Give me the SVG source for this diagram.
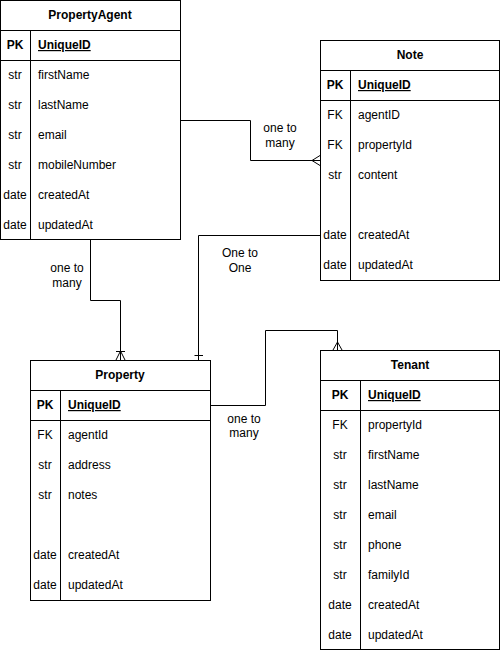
<svg xmlns="http://www.w3.org/2000/svg" width="501" height="651" viewBox="0 0 501 651">
<style>
text{font-family:"Liberation Sans",Arial,sans-serif;font-size:12px;fill:#000}
.t{font-weight:bold;text-anchor:middle}
.k{text-anchor:middle}
.pk{font-weight:bold;text-anchor:middle}
.uid{font-weight:bold;text-decoration:underline}
.box{fill:#fff;stroke:#000;stroke-width:1}
.ln{stroke:#000;stroke-width:1;fill:none}
.lbl{text-anchor:middle}
</style>
<rect width="501" height="651" fill="#fff"/>
<g id="connectors">
<path class="ln" d="M180.5 120.5 H250.5 V160.5 H320"/>
<path class="ln" d="M320 155.5 L312 160.5 L320 165.5"/>
<text class="lbl" x="280" y="132">one to</text>
<text class="lbl" x="280" y="147">many</text>
<path class="ln" d="M90.5 240 V300.5 H120.5 V360"/>
<path class="ln" d="M116 351.5 H125 M116 360 L120.5 351 L125 360"/>
<text class="lbl" x="67" y="272">one to</text>
<text class="lbl" x="67" y="287">many</text>
<path class="ln" d="M320 235.5 H198.5 V360"/>
<path class="ln" d="M194.5 355.5 H203"/>
<text class="lbl" x="240" y="257">One to</text>
<text class="lbl" x="240" y="272">One</text>
<path class="ln" d="M210 405.5 H265.5 V330.5 H337.5 V350"/>
<path class="ln" d="M333 350 L337.5 342 L342 350"/>
<text class="lbl" x="244" y="423">one to</text>
<text class="lbl" x="244" y="437">many</text>
</g>
<g id="PropertyAgent">
<rect class="box" x="0.5" y="0.5" width="180" height="239"/>
<path class="ln" d="M0.5 30.5 H180.5 M0.5 60.5 H180.5 M30.5 30.5 V239.5"/>
<text class="t" x="90" y="19">PropertyAgent</text>
<text class="pk" x="15" y="49">PK</text><text class="uid" x="38" y="49">UniqueID</text>
<text class="k" x="15" y="79">str</text><text x="38" y="79">firstName</text>
<text class="k" x="15" y="109">str</text><text x="38" y="109">lastName</text>
<text class="k" x="15" y="139">str</text><text x="38" y="139">email</text>
<text class="k" x="15" y="169">str</text><text x="38" y="169">mobileNumber</text>
<text class="k" x="15" y="199">date</text><text x="38" y="199">createdAt</text>
<text class="k" x="15" y="229">date</text><text x="38" y="229">updatedAt</text>
</g>
<g id="Note">
<rect class="box" x="320.5" y="40.5" width="179" height="240"/>
<path class="ln" d="M320.5 70.5 H499.5 M320.5 100.5 H499.5 M350.5 70.5 V280.5"/>
<text class="t" x="410" y="59">Note</text>
<text class="pk" x="335" y="89">PK</text><text class="uid" x="358" y="89">UniqueID</text>
<text class="k" x="335" y="119">FK</text><text x="358" y="119">agentID</text>
<text class="k" x="335" y="149">FK</text><text x="358" y="149">propertyId</text>
<text class="k" x="335" y="179">str</text><text x="358" y="179">content</text>
<text class="k" x="335" y="239">date</text><text x="358" y="239">createdAt</text>
<text class="k" x="335" y="269">date</text><text x="358" y="269">updatedAt</text>
</g>
<g id="Property">
<rect class="box" x="30.5" y="360.5" width="180" height="240"/>
<path class="ln" d="M30.5 390.5 H210.5 M30.5 420.5 H210.5 M60.5 390.5 V600.5"/>
<text class="t" x="120" y="379">Property</text>
<text class="pk" x="45" y="409">PK</text><text class="uid" x="68" y="409">UniqueID</text>
<text class="k" x="45" y="439">FK</text><text x="68" y="439">agentId</text>
<text class="k" x="45" y="469">str</text><text x="68" y="469">address</text>
<text class="k" x="45" y="499">str</text><text x="68" y="499">notes</text>
<text class="k" x="45" y="559">date</text><text x="68" y="559">createdAt</text>
<text class="k" x="45" y="589">date</text><text x="68" y="589">updatedAt</text>
</g>
<g id="Tenant">
<rect class="box" x="320.5" y="350.5" width="179" height="299"/>
<path class="ln" d="M320.5 380.5 H499.5 M320.5 410.5 H499.5 M360.5 380.5 V649.5"/>
<text class="t" x="410" y="369">Tenant</text>
<text class="pk" x="340" y="399">PK</text><text class="uid" x="368" y="399">UniqueID</text>
<text class="k" x="340" y="429">FK</text><text x="368" y="429">propertyId</text>
<text class="k" x="340" y="459">str</text><text x="368" y="459">firstName</text>
<text class="k" x="340" y="489">str</text><text x="368" y="489">lastName</text>
<text class="k" x="340" y="519">str</text><text x="368" y="519">email</text>
<text class="k" x="340" y="549">str</text><text x="368" y="549">phone</text>
<text class="k" x="340" y="579">str</text><text x="368" y="579">familyId</text>
<text class="k" x="340" y="609">date</text><text x="368" y="609">createdAt</text>
<text class="k" x="340" y="639">date</text><text x="368" y="639">updatedAt</text>
</g>
</svg>
